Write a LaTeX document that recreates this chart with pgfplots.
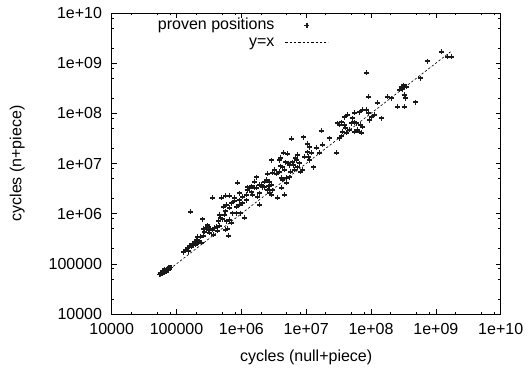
\documentclass[border=0pt]{standalone}
\usepackage{fontspec}
\setmainfont{Liberation Sans}
\usepackage{pgfplots}
\pgfplotsset{compat=1.18}
\newcommand{\fs}{\fontsize{16pt}{19pt}\selectfont}
\pgfplotsset{
  ppmark/.style={legend image code/.code={\path[draw=none,fill=none] (0pt,-2pt) (54pt,2pt);
    \draw[mark repeat=3, mark phase=2, ##1] plot coordinates {(20pt,0pt) (32.5pt,0pt) (45pt,0pt)};}},
  ppline/.style={legend image code/.code={\path[draw=none,fill=none] (0pt,-2pt) (54pt,2pt);
    \draw[##1] (11pt,0pt) -- (54pt,0pt);}},
}
\begin{document}
\begin{tikzpicture}
\begin{axis}[
  scale only axis, width=389pt, height=301pt,
  xmode=log, ymode=log,
  xmin=1e4, xmax=1e10, ymin=1e4, ymax=1e10,
  axis line style={line width=0.9pt},
  tick align=inside,
  major tick length=5pt, minor tick length=2.5pt,
  tick style={line width=0.6pt, black},
  xtick={1e4,1e5,1e6,1e7,1e8,1e9,1e10},
  xticklabels={10000,100000,1e+06,1e+07,1e+08,1e+09,1e+10},
  ytick={1e4,1e5,1e6,1e7,1e8,1e9,1e10},
  yticklabels={10000,100000,1e+06,1e+07,1e+08,1e+09,1e+10},
  minor xtick={2e4,5e4,8e4,2e5,5e5,8e5,2e6,5e6,8e6,2e7,5e7,8e7,2e8,5e8,8e8,2e9,5e9,8e9},
  minor ytick={2e4,5e4,8e4,2e5,5e5,8e5,2e6,5e6,8e6,2e7,5e7,8e7,2e8,5e8,8e8,2e9,5e9,8e9},
  tick label style={font=\fs},
  xticklabel style={inner ysep=0pt, yshift=-9pt},
  yticklabel style={inner xsep=0pt, xshift=-9.5pt},
  xlabel={cycles (null+piece)},
  ylabel={cycles (n+piece)},
  label style={font=\fs},
  xlabel style={at={(axis description cs:0.5,-0.1196)}, anchor=north, inner sep=0pt},
  ylabel style={at={(axis description cs:-0.2229,0.5)}, anchor=south, inner sep=0pt},
  legend plot pos=right,
  legend cell align=right,
  legend style={draw=none, fill=none, font=\fs, at={(axis description cs:0.5586,0.987)}, anchor=north east,
    inner sep=0pt, row sep=0pt, column sep=0pt,
    nodes={inner xsep=0pt, inner ysep=1pt, text height=11.5pt, text depth=3.5pt}},
]
\addplot[only marks, mark=+, mark size=2.5pt, black!90, mark options={line width=1.2pt}, ppmark]
coordinates {
(5.5e4,6.2e4)(5.7e4,6.3e4)(5.8e4,6.6e4)(5.9e4,6.4e4)(6.0e4,6.7e4)(6.1e4,6.5e4)
(6.2e4,6.9e4)(6.3e4,6.7e4)(6.4e4,7.1e4)(6.5e4,6.9e4)(6.6e4,7.3e4)(6.7e4,7.0e4)
(6.8e4,7.5e4)(6.9e4,7.2e4)(7.0e4,7.7e4)(7.1e4,7.4e4)(7.2e4,7.9e4)(7.3e4,7.6e4)
(7.5e4,8.1e4)(7.7e4,8.0e4)(7.9e4,8.4e4)(8.2e4,8.5e4)(6.2e4,7.3e4)(6.8e4,6.9e4)
(5.6e4,6.6e4)(6.0e4,6.3e4)(6.5e4,7.6e4)(7.1e4,7.0e4)(7.6e4,8.5e4)(7.4e4,7.3e4)
(1.29e5,1.72e5)(1.39e5,1.89e5)(1.49e5,2.07e5)(1.55e5,1.80e5)(1.60e5,2.27e5)
(1.72e5,2.17e5)(1.78e5,2.49e5)(1.91e5,2.73e5)(1.98e5,2.38e5)(2.05e5,2.99e5)
(2.13e5,3.43e5)(2.20e5,2.61e5)(2.28e5,2.85e5)(2.37e5,3.43e5)(2.45e5,2.61e5)
(2.63e5,3.59e5)(2.63e5,4.95e5)(2.72e5,4.32e5)(2.92e5,5.19e5)(3.03e5,5.94e5)
(3.14e5,4.73e5)(3.25e5,4.12e5)(3.37e5,4.95e5)(3.61e5,4.73e5)(3.75e5,3.76e5)
(3.88e5,5.19e5)(4.17e5,5.43e5)(4.32e5,4.52e5)(4.48e5,7.14e5)(4.63e5,5.68e5)
(4.81e5,8.20e5)(5.15e5,7.83e5)(5.53e5,9.42e5)(5.73e5,4.73e5)(5.94e5,7.14e5)
(6.15e5,4.95e5)(6.38e5,3.59e5)(6.61e5,7.48e5)(7.10e5,6.52e5)(1.66e5,1.08e6)
(2.54e5,7.83e5)(3.03e5,5.43e5)
(3.61e5,2.06e6)(4.63e5,9.42e5)(4.98e5,2.06e6)(5.35e5,1.36e6)(5.73e5,2.25e6)
(5.73e5,1.13e6)(5.94e5,1.49e6)(6.61e5,2.25e6)(6.61e5,1.30e6)(7.10e5,1.63e6)
(7.35e5,1.03e6)(7.89e5,1.79e6)(7.89e5,2.06e6)(8.47e5,1.36e6)(8.47e5,1.03e6)
(8.77e5,4.09e6)(9.42e5,2.58e6)(9.42e5,1.87e6)(9.42e5,1.49e6)(9.75e5,1.03e6)
(1.05e6,2.15e6)(1.05e6,1.63e6)(1.12e6,8.20e5)(1.21e6,2.36e6)(1.21e6,1.87e6)
(1.25e6,2.96e6)(1.25e6,3.40e6)(1.34e6,3.25e6)(1.44e6,3.56e6)(1.44e6,2.70e6)
(1.49e6,2.36e6)(1.60e6,4.28e6)(1.60e6,3.25e6)(1.72e6,5.38e6)(1.72e6,3.25e6)
(1.78e6,2.15e6)(1.91e6,3.73e6)(1.91e6,2.58e6)(1.91e6,1.49e6)(2.05e6,3.73e6)
(2.13e6,3.40e6)(2.28e6,3.40e6)(2.28e6,4.28e6)(2.45e6,4.69e6)(2.54e6,6.18e6)
(2.54e6,2.96e6)(2.63e6,3.56e6)(2.72e6,4.28e6)(2.72e6,3.56e6)(2.72e6,2.58e6)
(2.92e6,1.17e7)(2.92e6,3.73e6)(2.92e6,2.36e6)(3.03e6,6.47e6)(3.03e6,2.96e6)
(3.25e6,7.43e6)(3.49e6,6.18e6)(3.61e6,2.06e6)(3.88e6,1.17e7)(3.88e6,6.78e6)
(4.03e6,1.29e7)(4.03e6,8.91e6)(4.17e6,5.14e6)(4.17e6,3.25e6)(4.32e6,8.51e6)
(4.32e6,4.69e6)(4.48e6,1.62e7)(4.63e6,2.36e6)(4.63e6,7.43e6)(4.81e6,1.07e7)
(4.98e6,5.14e6)(4.98e6,4.09e6)(5.15e6,1.55e7)(5.35e6,1.02e7)(5.53e6,9.33e6)
(5.53e6,5.38e6)(5.73e6,6.78e6)(5.94e6,3.08e7)(6.15e6,1.07e7)(6.38e6,9.33e6)
(6.61e6,7.43e6)(6.85e6,1.29e7)(7.10e6,1.17e7)(7.35e6,1.48e7)(7.35e6,8.51e6)
(7.89e6,1.02e7)(8.17e6,6.78e6)(8.77e6,7.43e6)(9.08e6,3.37e7)(9.42e6,1.35e7)
(1.05e7,2.45e7)(1.05e7,1.69e7)(1.08e7,1.35e7)(1.12e7,2.13e7)(1.12e7,1.17e7)
(1.21e7,1.62e7)(1.30e7,8.51e6)(1.44e7,2.04e7)(1.60e7,1.62e7)(1.72e7,4.45e7)
(1.78e7,2.34e7)(2.28e7,3.22e7)(2.92e7,1.62e7)(3.03e7,6.41e7)(3.25e7,5.86e7)
(3.25e7,3.22e7)(3.49e7,6.71e7)(3.49e7,3.53e7)(3.61e7,4.25e7)(3.88e7,5.86e7)
(3.88e7,8.45e7)(4.03e7,5.11e7)(4.17e7,4.06e7)(4.32e7,9.27e7)(4.63e7,4.66e7)
(4.98e7,6.41e7)(5.15e7,8.07e7)(5.53e7,1.02e8)(5.53e7,6.71e7)(5.53e7,4.25e7)
(5.94e7,6.41e7)(6.15e7,4.66e7)(6.61e7,1.06e8)(6.61e7,4.25e7)(6.84e7,5.86e7)
(7.10e7,4.06e7)(7.35e7,1.17e8)(7.35e7,5.35e7)(8.47e7,1.17e8)(8.47e7,6.37e8)
(9.08e7,2.12e8)(9.08e7,1.02e8)(9.42e7,7.36e7)(1.01e8,8.45e7)(1.12e8,9.27e7)
(1.25e8,1.61e8)(1.44e8,8.07e7)(1.78e8,2.12e8)(2.05e8,2.02e8)(2.54e8,1.34e8)
(2.72e8,2.92e8)(2.92e8,3.35e8)(3.03e8,3.05e8)(3.14e8,3.67e8)(3.25e8,2.32e8)
(3.25e8,1.34e8)(3.37e8,2.02e8)(3.49e8,3.35e8)(4.81e8,1.68e8)(5.73e8,5.06e8)
(7.35e8,1.10e9)(1.21e9,1.67e9)(1.49e9,1.33e9)(1.72e9,1.33e9)
};
\addlegendentry{proven positions}
\addplot[black, line width=0.6pt, dash pattern=on 2.3pt off 2pt, ppline]
coordinates {(5.5e4,5.5e4) (1.72e9,1.72e9)};
\addlegendentry{y=x}
\end{axis}
\pgfresetboundingbox
\path[use as bounding box] ([shift={(-111.7pt,-56pt)}]current axis.south west) rectangle ([shift={(417.3pt,314pt)}]current axis.south west);
\end{tikzpicture}
\end{document}
